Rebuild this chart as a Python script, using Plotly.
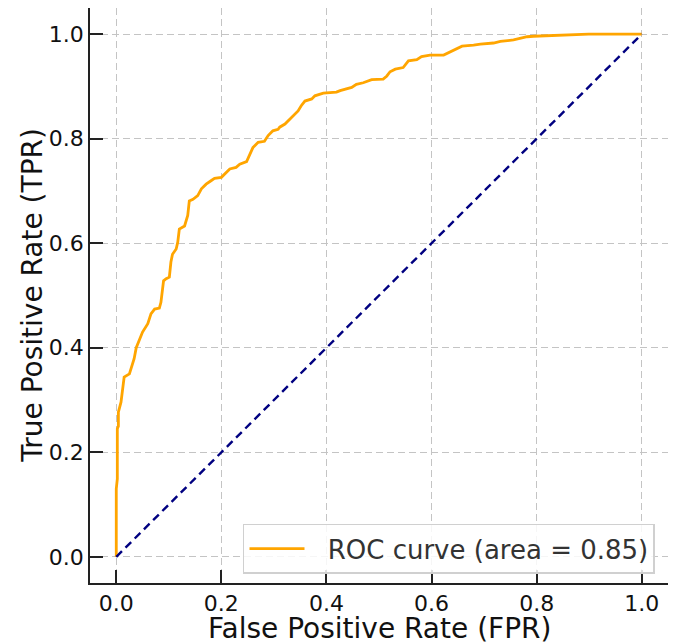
import plotly.graph_objects as go

fpr = [0.0, 0.0, 0.002, 0.002, 0.004, 0.004, 0.009, 0.012, 0.015, 0.025, 0.030, 0.034,
       0.038, 0.044, 0.050, 0.060, 0.066, 0.073, 0.082, 0.085, 0.090, 0.095, 0.101,
       0.104, 0.107, 0.114, 0.117, 0.120, 0.130, 0.136, 0.139, 0.146, 0.155, 0.162,
       0.171, 0.181, 0.187, 0.200, 0.209, 0.216, 0.228, 0.235, 0.248, 0.254, 0.260,
       0.270, 0.282, 0.289, 0.298, 0.308, 0.311, 0.321, 0.327, 0.336, 0.346, 0.352,
       0.359, 0.372, 0.378, 0.394, 0.419, 0.426, 0.438, 0.448, 0.457, 0.470, 0.486,
       0.508, 0.515, 0.521, 0.531, 0.546, 0.556, 0.572, 0.581, 0.597, 0.623, 0.629,
       0.639, 0.648, 0.658, 0.680, 0.693, 0.718, 0.731, 0.756, 0.769, 0.782, 0.794,
       0.858, 0.899, 1.0]
tpr = [0.0, 0.130, 0.149, 0.245, 0.250, 0.277, 0.296, 0.320, 0.344, 0.350, 0.366, 0.379,
       0.400, 0.417, 0.430, 0.446, 0.465, 0.474, 0.476, 0.487, 0.528, 0.532, 0.535,
       0.564, 0.579, 0.589, 0.602, 0.627, 0.633, 0.653, 0.681, 0.684, 0.691, 0.704,
       0.713, 0.720, 0.724, 0.726, 0.735, 0.742, 0.745, 0.751, 0.756, 0.771, 0.783,
       0.793, 0.795, 0.806, 0.815, 0.818, 0.822, 0.828, 0.834, 0.841, 0.853, 0.863,
       0.872, 0.876, 0.882, 0.887, 0.889, 0.892, 0.895, 0.898, 0.904, 0.907, 0.913,
       0.914, 0.920, 0.928, 0.933, 0.936, 0.949, 0.951, 0.957, 0.960, 0.960, 0.963,
       0.968, 0.971, 0.977, 0.979, 0.981, 0.983, 0.986, 0.989, 0.992, 0.995, 0.996,
       0.998, 1.0, 1.0]
roc_auc = 0.85

diag_x = [0.0, 1.0]
diag_y = [0.0, 1.0]
tick_vals = [0.0, 0.2, 0.4, 0.6, 0.8, 1.0]
tick_text = ["0.0", "0.2", "0.4", "0.6", "0.8", "1.0"]
x_title = "False Positive Rate (FPR)"
y_title = "True Positive Rate (TPR)"

FONT = "DejaVu Sans"

fig = go.Figure()
fig.add_trace(go.Scatter(x=fpr, y=tpr, mode="lines",
                         line=dict(color="#FFA500", width=2.8),
                         name="\u2002\u2009" + f"ROC curve (area = {roc_auc:.2f})"))
fig.add_trace(go.Scatter(x=diag_x, y=diag_y, mode="lines",
                         line=dict(color="#000080", width=2.4, dash="8px,5px"),
                         showlegend=False))

axis_common = dict(
    range=[-0.05, 1.05],
    tickvals=tick_vals, ticktext=tick_text,
    showgrid=True, gridcolor="#c4c4c4", gridwidth=1.4, griddash="7px,4px",
    zeroline=False,
    showline=True, linecolor="#222222", linewidth=1.5, mirror=False,
    ticks="inside", ticklen=13, tickwidth=2, tickcolor="#222222",
    tickfont=dict(family=FONT, size=22, color="#111111"),
    automargin=False,
)

fig.update_xaxes(**axis_common, ticklabelstandoff=0)
fig.update_yaxes(**axis_common, ticklabelstandoff=0)

fig.add_annotation(text=x_title, xref="paper", yref="paper", x=0.501, y=-0.079,
                   xanchor="center", yanchor="middle", showarrow=False,
                   borderpad=0,
                   font=dict(family=FONT, size=28, color="#111111"))
fig.add_annotation(text=y_title, xref="paper", yref="paper", x=-0.100, y=0.5,
                   xanchor="center", yanchor="middle", showarrow=False, textangle=-90,
                   font=dict(family=FONT, size=28, color="#111111"))

fig.update_layout(
    width=668, height=636,
    margin=dict(l=82, r=8, t=0, b=61),
    paper_bgcolor="white", plot_bgcolor="white",
    showlegend=True,
    legend=dict(x=0.9775, y=0.016, xanchor="right", yanchor="bottom",
                bgcolor="rgba(255,255,255,0.85)", bordercolor="#d0d0d0", borderwidth=1.5,
                font=dict(family=FONT, size=26, color="#333333"),
                itemwidth=55),
)

fig.write_html("out.html")
